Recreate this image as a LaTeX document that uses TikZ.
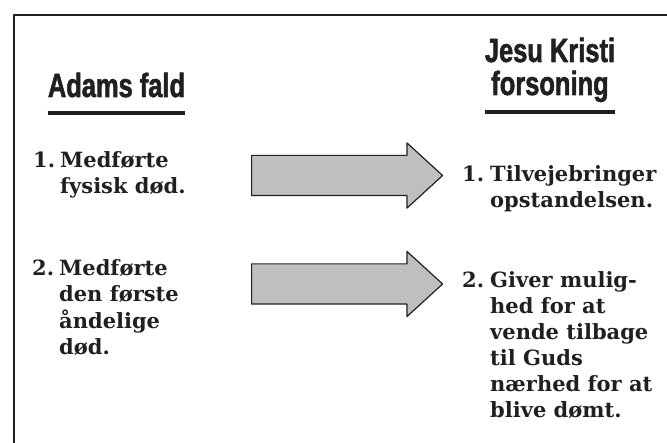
\documentclass[tikz,border=0pt]{standalone}
\usepackage{fontspec}
\usepackage{tikz}
\usetikzlibrary{shapes.arrows,calc,positioning}
\newfontfamily\headfont{Liberation Sans}[UprightFont={* Bold}, FakeStretch=0.76, FakeBold=1.6]
\newfontfamily\itemfont{DejaVu Serif}
\definecolor{arrgray}{HTML}{BEBFC1}
\definecolor{ink}{HTML}{231F20}
\newcommand{\itemlines}[1]{\begin{tabular}[t]{@{}l@{}}#1\end{tabular}}
\tikzset{
  hdr/.style={inner sep=0pt, anchor=base, text=ink, font=\headfont\fontsize{33.5}{33}\selectfont},
  itm/.style={inner sep=0pt, anchor=base west, text=ink, font=\itemfont\bfseries\fontsize{21}{26}\selectfont},
  uline/.style={draw=ink, line width=3.5pt, line cap=butt},
  blockarr/.style={single arrow, draw=ink, fill=arrgray, line width=1.2pt,
    inner xsep=0pt, inner ysep=19.5pt, text height=0pt, text depth=0pt,
    minimum height=191pt, single arrow head extend=12.5pt,
    single arrow tip angle=84.9, anchor=tail},
  every picture/.style={line cap=round, line join=round}
}

\begin{document}
\begin{tikzpicture}[x=1pt, y=-1pt]
    \clip (0,0) rectangle (667,443);
    \draw[ink, line width=1.5pt] (14,15) rectangle (690,470);

    % headings
    \node[hdr] (hl) at (116.5,97) {Adams fald};
    \node[hdr] (hr1) at (550,62) {Jesu Kristi};
    \node[hdr] (hr2) at (550,95) {forsoning};
    \draw[uline] ($(hl.base west)+(0,16)$) -- ($(hl.base east)+(0,16)$);
    \draw[uline] ($(hr2.base -| hr1.west)+(0,17)$) -- ($(hr2.base -| hr1.east)+(0,17)$);

    % left column
    \node[itm] (n1) at (33,168) {1.};
    \node[itm] (l1) at (60,168) {\itemlines{Medførte\\fysisk død.}};
    \node[itm] (n2) at (32,276) {2.};
    \node[itm] (l2) at (59,276) {\itemlines{Medførte\\den første\\åndelige\\død.}};

    % right column
    \node[itm] (m1) at (462,182) {1.};
    \node[itm] (r1) at (490,182) {\itemlines{Tilvejebringer\\opstandelsen.}};
    \node[itm] (m2) at (462,288) {2.};
    \node[itm] (r2) at (490,288) {\itemlines{Giver mulig-\\hed for at\\vende tilbage\\til Guds\\nærhed for at\\blive dømt.}};

    % arrows
    \node[blockarr] (a1) at (251,175.5) {};
    \node[blockarr] (a2) at (251,284) {};
\end{tikzpicture}
\end{document}
